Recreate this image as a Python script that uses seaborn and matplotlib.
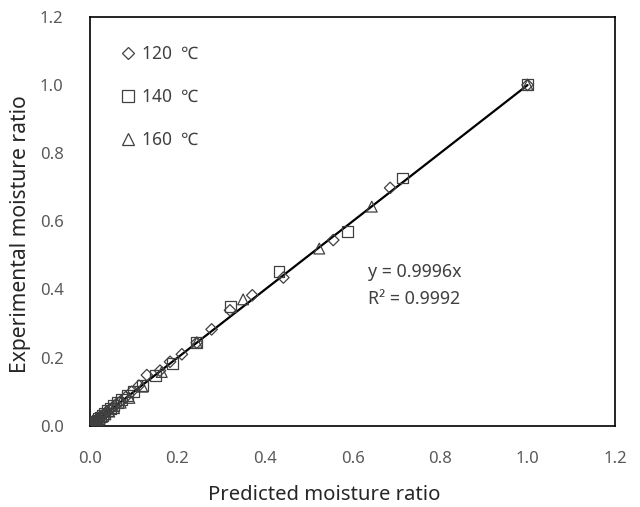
import numpy as np
import pandas as pd
import matplotlib
matplotlib.use("Agg")
import matplotlib.pyplot as plt
from matplotlib.lines import Line2D
import seaborn as sns

# ---- data ----
pred_120 = [1.0, 0.686, 0.556, 0.442, 0.371, 0.320, 0.278, 0.244, 0.210, 0.183, 0.160, 0.130,
            0.112, 0.095, 0.082, 0.070, 0.060, 0.052, 0.045, 0.039, 0.034, 0.029, 0.025, 0.021,
            0.018, 0.015, 0.012, 0.010, 0.008]
exp_120 = [1.0, 0.698, 0.545, 0.435, 0.383, 0.339, 0.283, 0.244, 0.210, 0.188, 0.162, 0.149,
           0.118, 0.100, 0.085, 0.072, 0.064, 0.055, 0.048, 0.042, 0.036, 0.031, 0.027, 0.022,
           0.019, 0.016, 0.013, 0.010, 0.008]
pred_140 = [1.0, 0.715, 0.588, 0.432, 0.322, 0.244, 0.188, 0.149, 0.120, 0.100, 0.085, 0.072,
            0.062, 0.053, 0.046, 0.040, 0.034, 0.029, 0.024, 0.020, 0.016, 0.013, 0.010]
exp_140 = [1.0, 0.727, 0.571, 0.452, 0.349, 0.244, 0.183, 0.149, 0.118, 0.102, 0.088, 0.078,
           0.068, 0.060, 0.052, 0.044, 0.036, 0.031, 0.026, 0.021, 0.017, 0.013, 0.010]
pred_160 = [1.0, 0.644, 0.524, 0.350, 0.244, 0.164, 0.120, 0.090, 0.070, 0.055, 0.044, 0.035,
            0.028, 0.022, 0.017, 0.013, 0.010, 0.007]
exp_160 = [1.0, 0.643, 0.520, 0.371, 0.244, 0.158, 0.115, 0.082, 0.068, 0.052, 0.042, 0.034,
           0.027, 0.021, 0.016, 0.012, 0.009, 0.006]
series_labels = ["120  \u2103", "140  \u2103", "160  \u2103"]
slope = 0.9996
r2 = 0.9992
x_ticks = [0.0, 0.2, 0.4, 0.6, 0.8, 1.0, 1.2]
y_ticks = [0.0, 0.2, 0.4, 0.6, 0.8, 1.0, 1.2]

sns.set_theme(style="white")
plt.rcParams["font.family"] = ["Noto Sans", "DejaVu Sans"]

fig = plt.figure(figsize=(6.4, 5.07), dpi=100)
ax = fig.add_axes([0.1406, 0.160, 0.8204, 0.807])

edge = "#404040"
markers = ["D", "s", "^"]
sizes = [34, 62, 60]
for px, ex, m, s in zip([pred_120, pred_140, pred_160], [exp_120, exp_140, exp_160], markers, sizes):
    df = pd.DataFrame({"x": px, "y": ex})
    sns.scatterplot(data=df, x="x", y="y", ax=ax, marker=m, s=s, color=edge,
                    facecolor="none", edgecolor=edge, linewidth=0.9, zorder=3, legend=False)

all_x = pred_120 + pred_140 + pred_160
fit_x = np.array([0.0, max(all_x)])
fit_y = slope * fit_x
sns.lineplot(x=fit_x, y=fit_y, ax=ax, color="black", linewidth=1.6, zorder=2)

ax.set_xlim(x_ticks[0], x_ticks[-1])
ax.set_ylim(y_ticks[0], y_ticks[-1])
ax.set_xticks(x_ticks)
ax.set_yticks(y_ticks)
ax.set_xticklabels([f"{v:.1f}" for v in x_ticks])
ax.set_yticklabels([f"{v:.1f}" for v in y_ticks])
ax.tick_params(axis="both", length=0, labelsize=12, labelcolor="#595959")
ax.tick_params(axis="x", pad=18)
ax.tick_params(axis="y", pad=19)

for sp in ax.spines.values():
    sp.set_color("black")
    sp.set_linewidth(1.2)

ax.set_xlabel("Predicted moisture ratio", fontsize=14.6, color="#262626", labelpad=12)
ax.xaxis.set_label_coords(0.446, -0.145)
ax.set_ylabel("Experimental moisture ratio", fontsize=15.2, color="#262626")
ax.yaxis.set_label_coords(-0.112, 0.469)

ax.text(0.635, 0.451, f"y = {slope:.4f}x", fontsize=12.8, color="#404040", va="center")
ax.text(0.635, 0.372, f"R\u00b2 = {r2:.4f}", fontsize=12.8, color="#404040", va="center")

handles = [Line2D([], [], linestyle="none", marker=m, markersize=ms, markerfacecolor="none",
                  markeredgecolor=edge, markeredgewidth=0.9)
           for m, ms in zip(markers, [6.5, 8, 8])]
ax.legend(handles, series_labels, loc="upper left", frameon=False, fontsize=12.5,
          labelspacing=1.45, handlelength=0.8, handletextpad=0.4,
          bbox_to_anchor=(0.03, 0.970), labelcolor="#404040")

fig.savefig("out.png", dpi=100)
